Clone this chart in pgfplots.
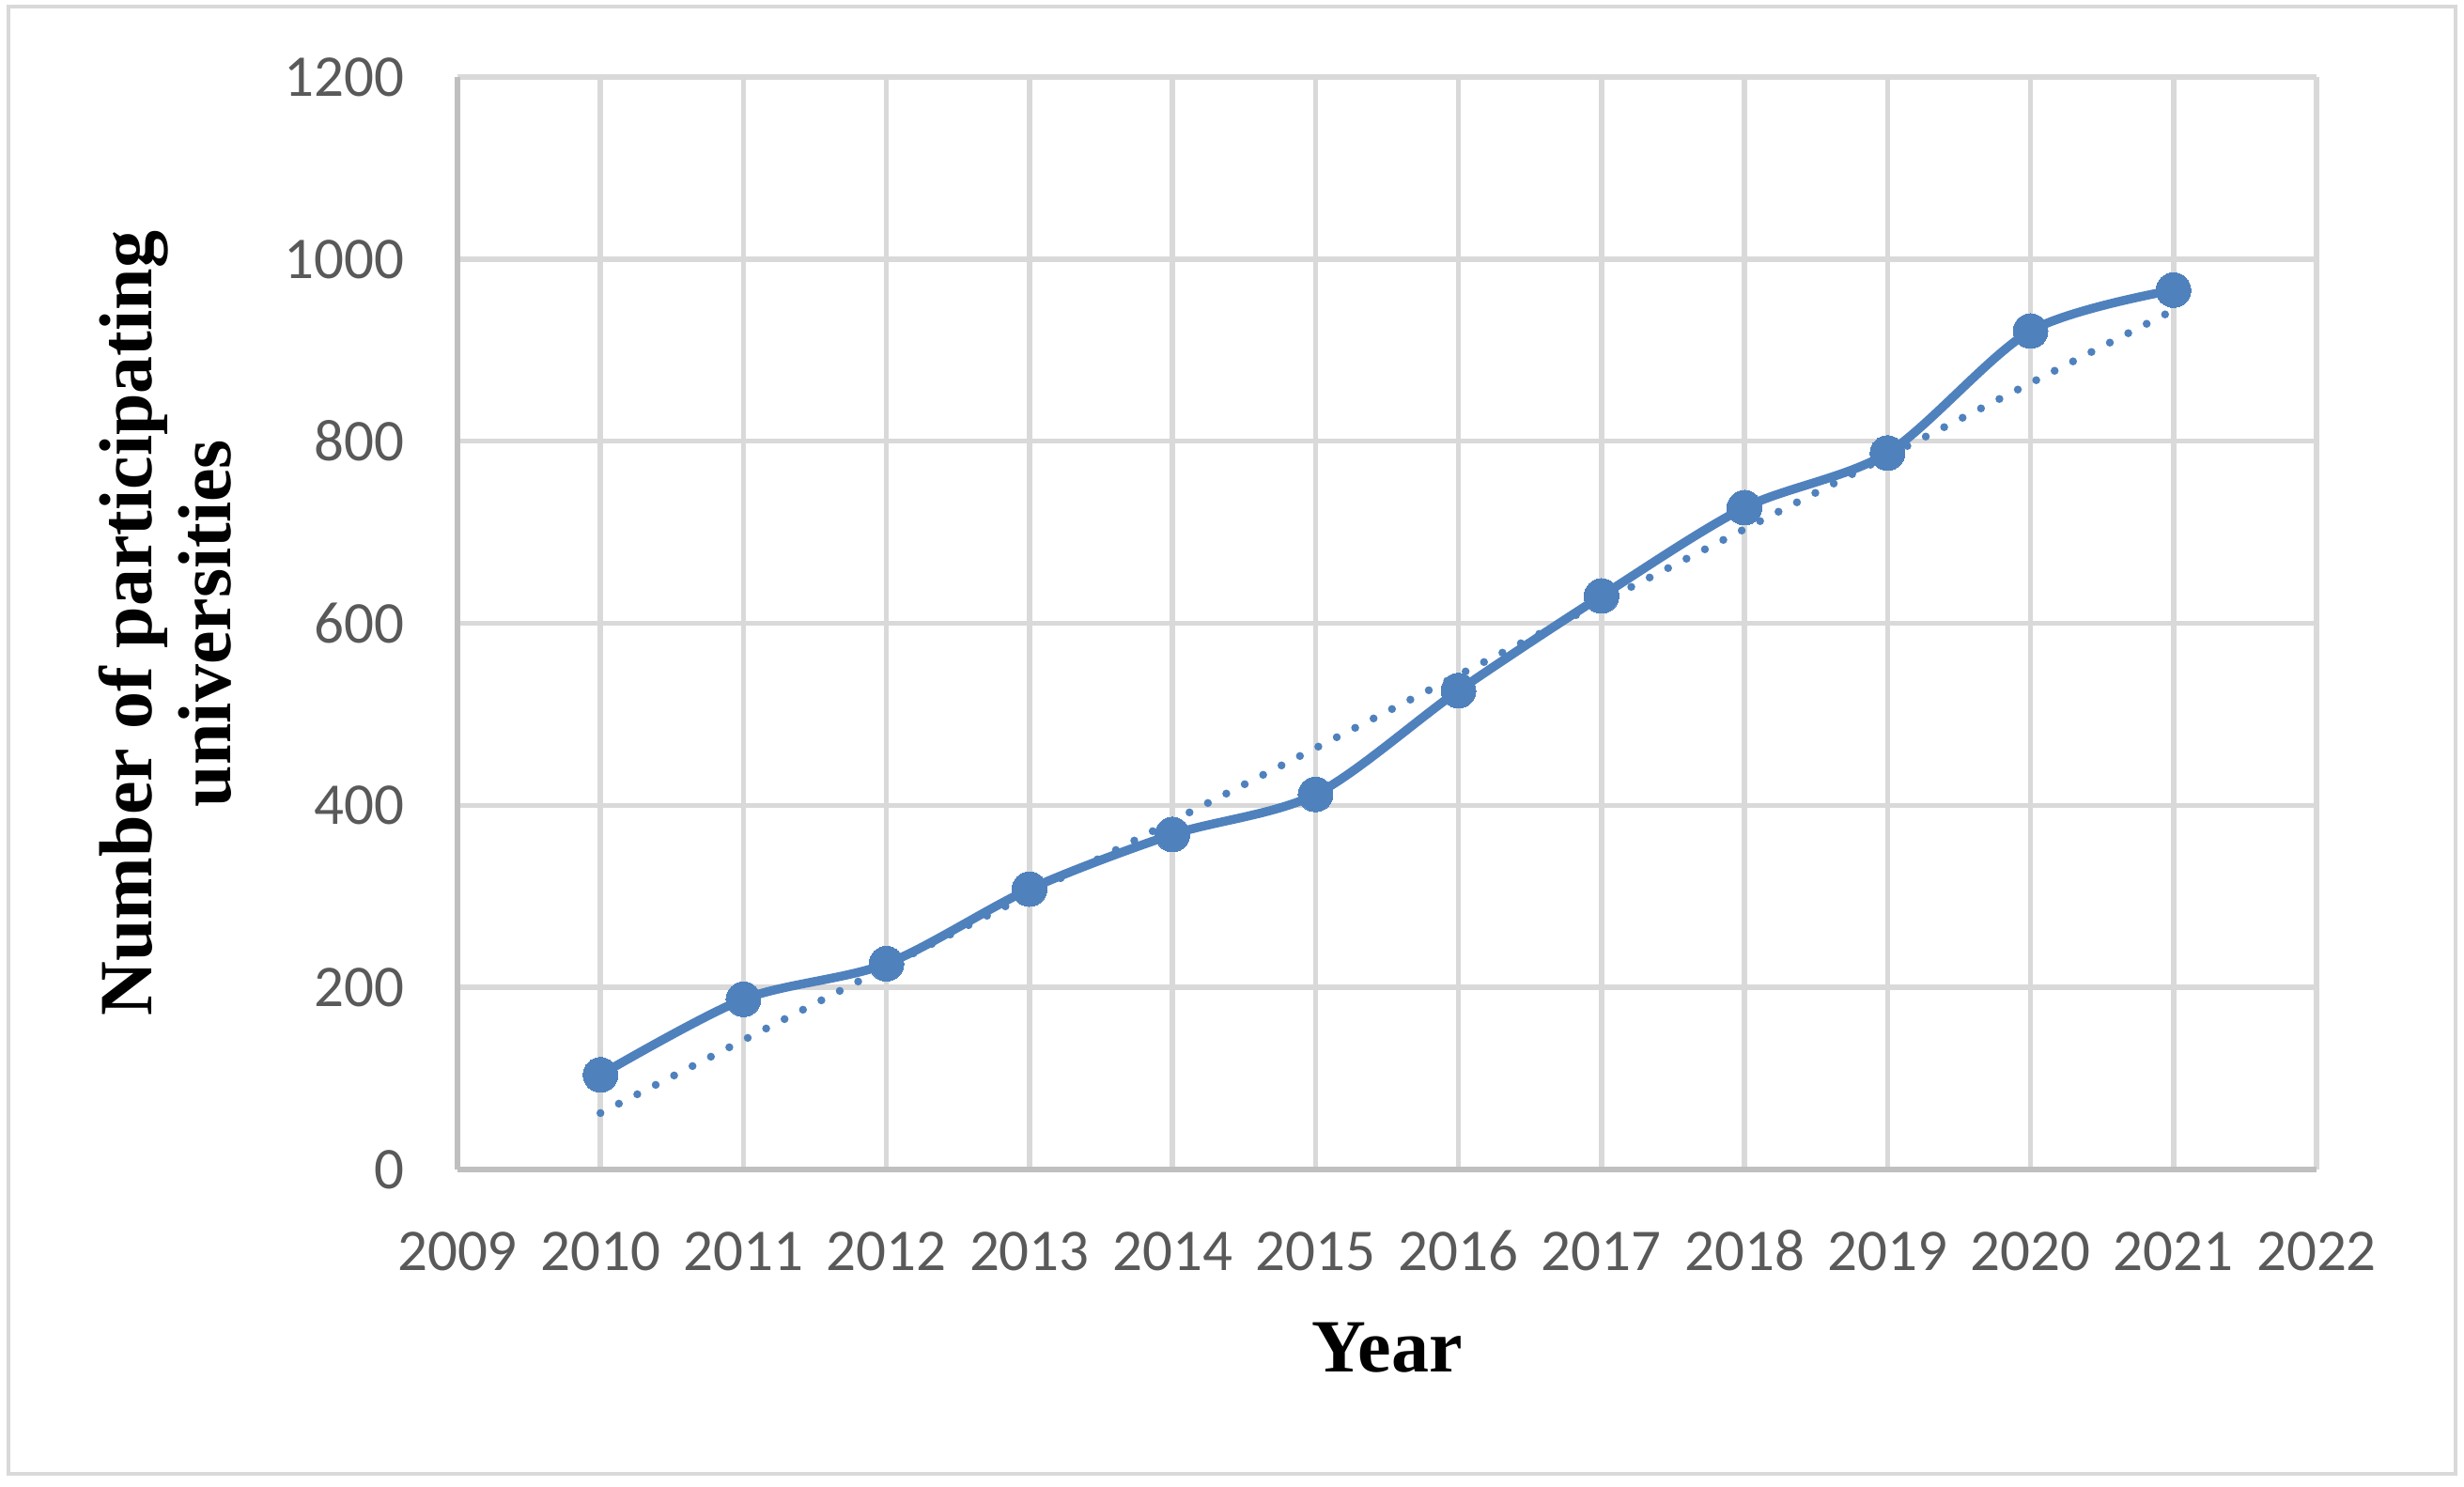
\documentclass[border=0pt]{standalone}
\usepackage{pgfplots}
\pgfplotsset{compat=1.18}
\usepackage{fontspec}
\setmainfont{Liberation Serif}
\newfontfamily\carlito{Carlito}
\definecolor{series}{HTML}{4F81BD}
\definecolor{gridc}{HTML}{D9D9D9}
\definecolor{axc}{HTML}{BFBFBF}
\definecolor{tickc}{HTML}{595959}
\begin{document}
\begin{tikzpicture}
\begin{axis}[
  at={(0,0)}, anchor=south west,
  scale only axis, width=395.8pt, height=232.6pt,
  xmin=2009, xmax=2022, ymin=0, ymax=1200,
  xtick={2009,2010,...,2022}, ytick={0,200,...,1200},
  axis x line=bottom, axis y line=left,
  axis line style={axc, line width=1.2pt, -},
  grid=major, major grid style={gridc, line width=1.1pt},
  major tick length=0pt,
  tick label style={font=\carlito\fontsize{12.6}{14}\selectfont, text=tickc,
    /pgf/number format/assume math mode=true, /pgf/number format/1000 sep={}},
  xticklabel style={anchor=base, yshift=-21.5pt},
  yticklabel style={xshift=-7.8pt},
  xlabel={Year},
  ylabel={Number of participating\\universities},
  every axis x label/.style={at={(axis description cs:0.5,-0.1849)}, anchor=base,
    font=\bfseries\fontsize{16}{17}\selectfont},
  every axis y label/.style={at={(axis description cs:-0.1127,0.5)}, anchor=south, rotate=90,
    align=center, font=\bfseries\fontsize{16}{16.7}\selectfont},
  clip=false,
]
\addplot[series, line width=1.7pt, line cap=round, dash pattern=on 0pt off 4.4pt]
  coordinates {(2010,62) (2021,944)};
\addplot[series, line width=1.9pt, smooth, mark=*, mark size=3.7pt,
  mark options={solid, fill=series, draw=series, line width=0pt}]
  coordinates {
  (2010,104) (2011,187) (2012,226) (2013,308) (2014,368) (2015,412)
  (2016,526) (2017,630) (2018,727) (2019,787) (2020,921) (2021,966)};
\end{axis}
\draw[gridc, line width=0.8pt] (-95.6pt,-64.8pt) rectangle (425.4pt,247.6pt);
\pgfresetboundingbox
\useasboundingbox (-97.4pt,-67.4pt) rectangle (427.2pt,249pt);
\end{tikzpicture}
\end{document}
